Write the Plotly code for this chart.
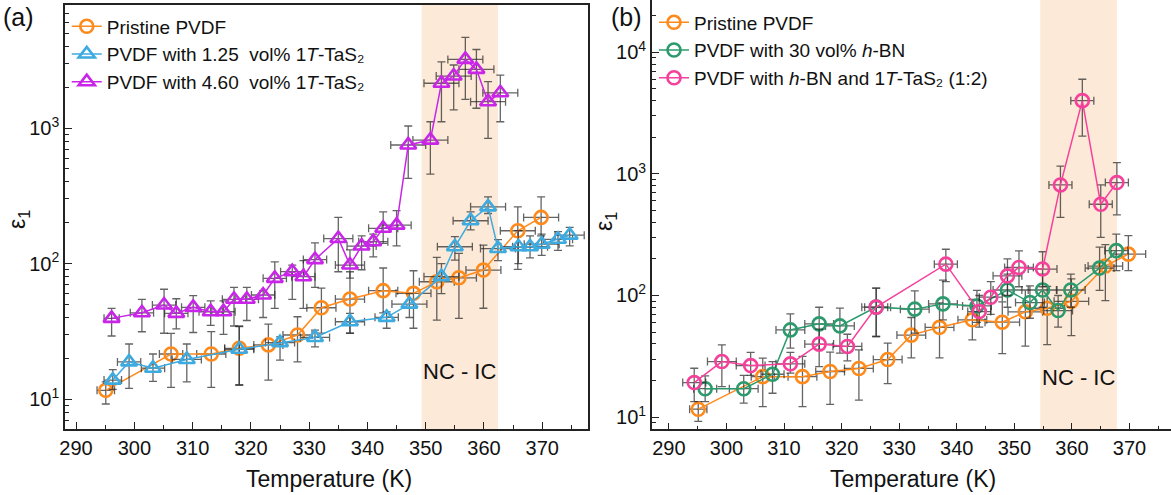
import plotly.graph_objects as go
import math

# ---------------- data ----------------
# Pristine PVDF (shared by both panels)
T_pristine = [295.1, 306.3, 313.2, 318.0, 323.0, 328.0, 332.1, 337.0, 342.7, 347.9, 351.9, 355.7, 359.9, 365.8, 369.8]
eps_pristine = [11.6, 21.5, 21.5, 23.7, 25.1, 29.7, 47.2, 54.7, 63.1, 60.3, 73.4, 78.5, 89.5, 174.6, 219]
hi_pristine = [13.4, 30.5, 31.5, 34.2, 35.7, 40.5, 65.9, 87, 92.7, 88.5, 111, 119, 137, 262, 311]
lo_pristine = [9.2, 12.2, 12.2, 12.7, 13.8, 18.8, 30.7, 30.7, 43.2, 33.3, 38.3, 39.4, 46.8, 90.6, 160]
dT_pristine = [1.5, 2, 2.5, 2.5, 2.5, 2.5, 2.5, 2.5, 2.5, 3, 3, 3, 3, 3, 3]

# PVDF with 1.25 vol% 1T-TaS2
T_125 = [296.3, 299.1, 303.2, 309.0, 318.0, 325.0, 331.0, 337.0, 343.3, 347.2, 352.7, 355.0, 357.7, 360.7, 362.4, 365.9, 367.9, 369.9, 372.7, 374.7]
eps_125 = [13.8, 18.8, 16.9, 19.6, 23.3, 26.1, 28.5, 37.2, 40.1, 50.2, 80, 133, 207, 262, 129, 133, 133, 139, 151, 162]
hi_125 = [16.5, 25.5, 21.5, 25.5, 34.6, 28.8, 32.3, 42.9, 44, 60, 100, 158, 241, 311, 150, 175, 160, 165, 172, 185]
lo_125 = [11.8, 12.0, 13.5, 13.4, 12.7, 19.4, 24.3, 30.6, 33.3, 40, 60, 106, 177, 234, 105, 100, 110, 115, 125, 135]
dT_125 = [1.5, 2, 2, 2.5, 2.5, 2.5, 2.5, 2.5, 2, 3, 3, 3, 3, 3, 3, 3, 3, 3, 2.5, 2.5]

# PVDF with 4.60 vol% 1T-TaS2
T_460 = [296.1, 301.3, 305.1, 307.2, 310.1, 313.1, 315.3, 317.1, 319.3, 322.1, 324.1, 327.1, 329.0, 331.0,
         335.0, 337.0, 339.0, 341.0, 342.7, 345.0, 347.0, 350.8, 352.7, 354.8, 356.8, 358.7, 360.7, 362.8]
eps_460 = [39.4, 43.3, 49.4, 42.9, 47.5, 44.1, 44.1, 54.5, 54.5, 58.6, 77.8, 87.1, 80, 107,
           153, 97.5, 134.6, 145, 182, 192, 750, 815, 2140, 2420, 3210, 2710, 1565, 1820]
hi_460 = [46.7, 54.5, 64.6, 55, 58, 53, 53, 66.8, 66.8, 63, 103, 97.5, 105, 142,
          219, 126, 160, 165, 241, 246, 1035, 1113, 3080, 2920, 4670, 3800, 2200, 2460]
lo_460 = [29.2, 31.4, 30.6, 33, 31, 35, 30, 34.6, 38, 40, 46.7, 54.5, 46.7, 66.8,
          87, 78, 90, 112, 141, 135, 425, 457, 1113, 1360, 1630, 1400, 840, 1113]
dT_460 = [1.3, 2, 2, 2, 2, 2, 2, 2, 2, 2, 2, 2, 2, 2, 2.5, 2.5, 2.5, 2.5, 2.5, 2.5, 3, 3, 3, 3, 3, 3, 3, 3]

# PVDF with 30 vol% h-BN
T_bn = [296.3, 303.0, 308.0, 311.1, 316.1, 319.7, 326.0, 332.7, 337.6, 343.5, 348.8, 352.7, 354.9, 357.6, 359.8, 364.8, 367.7]
eps_bn = [17.1, 17.1, 22.5, 52.1, 58.4, 56.2, 80.2, 77.2, 85.3, 82, 111, 87.5, 111, 75.2, 111, 168, 234]
hi_bn = [21.8, 22, 28.6, 70.6, 80, 78.7, 115, 109, 134, 110, 150, 120, 150, 100, 150, 250, 320]
lo_bn = [13.4, 13, 15.7, 36.9, 36, 33.5, 46, 49, 63, 60, 80, 65, 80, 55, 80, 110, 160]
dT_bn = [2, 2.5, 2, 2.5, 2.5, 2.5, 2.5, 2.5, 2.5, 2.5, 2.5, 2.5, 2.5, 2.5, 2.5, 2.5, 2]

# PVDF with h-BN and 1T-TaS2 (1:2)
T_mix = [294.4, 299.2, 304.2, 311.1, 316.1, 321.0, 326.0, 338.1, 343.9, 345.9, 348.8, 350.8, 354.9, 358.0, 361.8, 365.0, 367.8]
eps_mix = [19.2, 28.6, 26.5, 27.4, 39.8, 38.1, 80.2, 181, 73.8, 96.8, 145, 170, 165, 812, 4010, 563, 849]
hi_mix = [25.2, 39.3, 34, 34, 52.8, 48, 115, 240, 100, 130, 200, 233, 229, 1160, 6010, 812, 1240]
lo_mix = [13.4, 17.8, 22, 23, 26, 29, 46, 130, 55, 70, 100, 118, 118, 440, 2050, 301, 460]
dT_mix = [2, 2.5, 2.5, 2.5, 2.5, 2.5, 2, 2, 2, 2, 2.5, 2.5, 2.5, 2, 2, 2, 2]

x_ticks = [290, 300, 310, 320, 330, 340, 350, 360, 370]
shade_a = [349.3, 362.4]
shade_b = [354.5, 367.8]

# ---------------- styling ----------------
W, H = 1171, 495
C_OR = "#FF8A1C"
C_BL = "#3DAAE0"
C_PU = "#C925E8"
C_GR = "#2C9A6C"
C_PK = "#F5419C"
FONT = "Liberation Sans, Arial, sans-serif"
ERR_C = "rgba(40,40,40,0.72)"

fig = go.Figure()


def add_series(xa, ya, T, eps, hi, lo, dT, color, symbol, name, legend, msize):
    fig.add_trace(go.Scatter(
        x=T, y=eps, mode="lines+markers", name=name, legend=legend,
        xaxis=xa, yaxis=ya,
        line=dict(color=color, width=1.5),
        marker=dict(symbol=symbol, size=msize, color=color,
                    line=dict(color=color, width=2.6)),
        error_y=dict(type="data", symmetric=False,
                     array=[h - e for h, e in zip(hi, eps)],
                     arrayminus=[e - l for e, l in zip(eps, lo)],
                     color=ERR_C, thickness=1.3, width=4),
        error_x=dict(type="data", array=dT, color=ERR_C, thickness=1.3, width=4),
    ))


# panel (a)
add_series("x", "y", T_pristine, eps_pristine, hi_pristine, lo_pristine, dT_pristine,
           C_OR, "circle-open", "Pristine PVDF", "legend", 13)
add_series("x", "y", T_125, eps_125, hi_125, lo_125, dT_125,
           C_BL, "triangle-up-open", "PVDF with 1.25  vol% 1<i>T</i>-TaS₂", "legend", 14)
add_series("x", "y", T_460, eps_460, hi_460, lo_460, dT_460,
           C_PU, "triangle-up-open", "PVDF with 4.60  vol% 1<i>T</i>-TaS₂", "legend", 14)

# panel (b)
add_series("x2", "y2", T_pristine, eps_pristine, hi_pristine, lo_pristine, dT_pristine,
           C_OR, "circle-open", "Pristine PVDF", "legend2", 13)
add_series("x2", "y2", T_bn, eps_bn, hi_bn, lo_bn, dT_bn,
           C_GR, "circle-open", "PVDF with 30 vol% <i>h</i>-BN", "legend2", 13)
add_series("x2", "y2", T_mix, eps_mix, hi_mix, lo_mix, dT_mix,
           C_PK, "circle-open", "PVDF with <i>h</i>-BN and 1<i>T</i>-TaS₂ (1:2)", "legend2", 13)

minor_x = [v + 5 for v in x_ticks] + [285]
minor_y = [m * 10 ** d for d in range(0, 5) for m in range(2, 10)]


def xaxis(domain, rng, mirror):
    return dict(domain=domain, range=rng, tickvals=x_ticks, ticks="inside", ticklen=7,
                tickwidth=1.3, tickcolor="#222", showline=True, linecolor="#222", linewidth=1.6,
                mirror=mirror, showgrid=False, zeroline=False, automargin=False,
                tickfont=dict(family=FONT, size=20, color="#111"),
                minor=dict(tickvals=minor_x, ticks="inside", ticklen=4, tickcolor="#222", tickwidth=1.2))


def yaxis(domain, rng, vals, anchor, mirror):
    return dict(domain=domain, type="log", range=rng, tickvals=vals,
                ticktext=["10<sup>%d</sup>" % round(math.log10(v)) for v in vals],
                ticks="inside", ticklen=7, tickwidth=1.3, tickcolor="#222",
                showline=True, linecolor="#222", linewidth=1.6, mirror=mirror,
                showgrid=False, zeroline=False, anchor=anchor, automargin=False,
                tickfont=dict(family=FONT, size=20, color="#111"),
                minor=dict(tickvals=minor_y, ticks="inside", ticklen=4, tickcolor="#222", tickwidth=1.2))


def px_note(text, x, y, size, angle=0, xanchor="center", yanchor="middle"):
    return dict(text=text, x=x / W, y=1 - y / H, xref="paper", yref="paper", xanchor=xanchor,
                yanchor=yanchor, showarrow=False, textangle=angle,
                font=dict(family=FONT, size=size, color="#111"))


fig.update_layout(
    width=W, height=H, margin=dict(l=0, r=0, t=0, b=0, autoexpand=False),
    paper_bgcolor="white", plot_bgcolor="white",
    font=dict(family=FONT, color="#111"),
    xaxis=xaxis([0.0555, 0.5019], [288.1, 377.8], True) | dict(anchor="y"),
    yaxis=yaxis([0.1333, 0.9899], [0.779, 3.908], [10, 100, 1000], "x", True),
    xaxis2=xaxis([0.5567, 1.0], [287.05, 377.2], False) | dict(anchor="y2"),
    yaxis2=yaxis([0.1327, 1.0], [0.899, 4.431], [10, 100, 1000, 10000], "x2", False),
    legend=dict(x=0.057, y=0.985, xanchor="left", yanchor="top", bgcolor="rgba(0,0,0,0)",
                font=dict(family=FONT, size=19, color="#111"), tracegroupgap=0, itemwidth=30),
    legend2=dict(x=0.5585, y=0.993, xanchor="left", yanchor="top", bgcolor="rgba(0,0,0,0)",
                 font=dict(family=FONT, size=19, color="#111"), tracegroupgap=0, itemwidth=30),
    shapes=[
        dict(type="rect", xref="x", yref="y domain", x0=shade_a[0], x1=shade_a[1], y0=0, y1=1,
             fillcolor="#FDE9D7", line=dict(width=0), layer="below"),
        dict(type="rect", xref="x2", yref="y2 domain", x0=shade_b[0], x1=shade_b[1], y0=0, y1=1,
             fillcolor="#FDE9D7", line=dict(width=0), layer="below"),
    ],
    annotations=[
        dict(text="NC - IC", x=sum(shade_a) / 2, y=1.207, xref="x", yref="y", showarrow=False,
             font=dict(family=FONT, size=22, color="#111")),
        dict(text="NC - IC", x=sum(shade_b) / 2, y=1.322, xref="x2", yref="y2", showarrow=False,
             font=dict(family=FONT, size=22, color="#111")),
        px_note("(a)", 1, 1, 25, xanchor="left", yanchor="top"),
        px_note("(b)", 609, 1, 25, xanchor="left", yanchor="top"),
        px_note("Temperature (K)", 329, 479, 23),
        px_note("Temperature (K)", 913, 479, 23),
        px_note("ε<sub>1</sub>", 18, 220, 23, angle=-90),
        px_note("ε<sub>1</sub>", 605, 222, 23, angle=-90),
    ],
    showlegend=True,
)

fig.write_html("out.html", config={"displayModeBar": False},
               post_script="document.body.style.margin='0';document.body.style.padding='0';")
